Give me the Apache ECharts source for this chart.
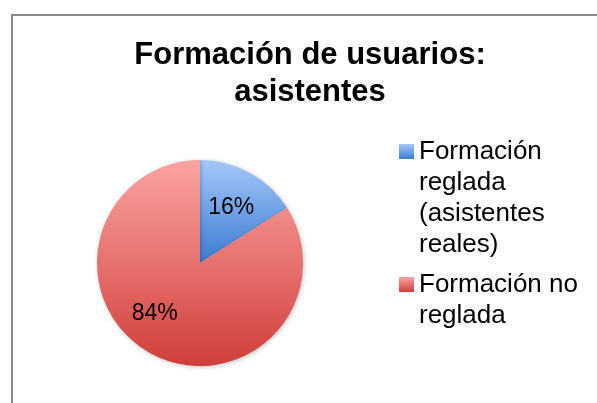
<!DOCTYPE html>
<html>
<head>
<meta charset="utf-8">
<title>Formación de usuarios: asistentes</title>
<script src="https://cdn.jsdelivr.net/npm/echarts@6/dist/echarts.min.js"></script>
<style>
html, body { margin: 0; padding: 0; background: #fff; }
#chart { width: 597px; height: 403px; }
</style>
</head>
<body>
<div id="chart"></div>
<script>
// datos
var categories = ['Formación reglada (asistentes reales)', 'Formación no reglada']
var legendLines = [['Formación', 'reglada', '(asistentes', 'reales)'], ['Formación no', 'reglada']]
var percentages = [16, 84]

var fontFamily = '"Liberation Sans", Arial, sans-serif'

// degradados de arriba a abajo, como en el original
var sliceColors = [
    new echarts.graphic.LinearGradient(0, 0, 0, 1, [
        { offset: 0, color: '#a4c7fa' },
        { offset: 1, color: '#3b7bd0' }
    ]),
    new echarts.graphic.LinearGradient(0, 0, 0, 1, [
        { offset: 0, color: '#fba4a2' },
        { offset: 1, color: '#d13e3a' }
    ])
]
// pequeño ajuste de la posición de las etiquetas
var labelShift = [[5, -8], [-19, 3]]

var myChart = echarts.init(document.getElementById('chart'))

var option = {
    animation: false,
    backgroundColor: '#fff',
    graphic: [{
        type: 'rect',
        shape: { x: 12, y: 15, width: 1000, height: 1000 },
        style: { fill: 'none', stroke: '#8a8a8a', lineWidth: 2 },
        silent: true
    }],
    title: {
        text: 'Formación de usuarios:\nasistentes',
        left: 310,
        top: 37,
        padding: 0,
        textAlign: 'center',
        textStyle: {
            fontFamily: fontFamily,
            fontSize: 31,
            fontWeight: 'bold',
            color: '#000',
            lineHeight: 37
        }
    },
    legend: {
        orient: 'vertical',
        left: 399,
        top: 43,
        padding: 0,
        itemGap: -22,
        itemWidth: 15,
        itemHeight: 15,
        icon: 'rect',
        selectedMode: false,
        data: categories,
        // líneas vacías delante para que el cuadro quede a la altura de la primera línea
        formatter: function (name) {
            var lines = legendLines[categories.indexOf(name)]
            var blank = new Array(lines.length).join('\n')
            return blank + lines.join('\n')
        },
        textStyle: {
            fontFamily: fontFamily,
            fontSize: 26,
            lineHeight: 31,
            color: '#000'
        }
    },
    series: [{
        type: 'pie',
        center: [200, 263],
        radius: 103,
        startAngle: 90,
        clockwise: true,
        silent: true,
        color: sliceColors,
        itemStyle: {
            shadowBlur: 4,
            shadowOffsetX: 1,
            shadowOffsetY: 1,
            shadowColor: 'rgba(0,0,0,0.25)'
        },
        label: {
            show: true,
            position: 'inside',
            formatter: '{c}%',
            fontFamily: fontFamily,
            fontSize: 23,
            color: '#000'
        },
        labelLine: { show: false },
        labelLayout: function (params) {
            return { dx: labelShift[params.dataIndex][0], dy: labelShift[params.dataIndex][1] }
        },
        data: categories.map(function (name, i) {
            return { name: name, value: percentages[i] }
        })
    }]
}

myChart.setOption(option)
</script>
</body>
</html>
